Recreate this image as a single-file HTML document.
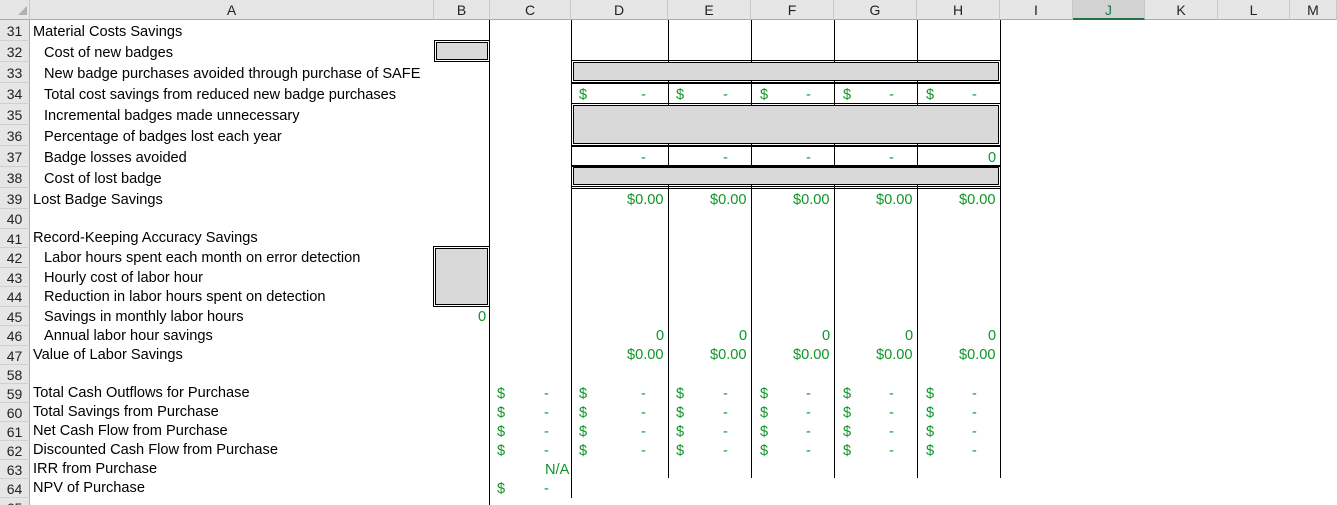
<!DOCTYPE html>
<html><head><meta charset="utf-8"><style>
html,body{margin:0;width:1337px;height:505px;overflow:hidden}
body{background:#fff;font-family:"Liberation Sans",Arial,sans-serif;font-size:14.6px;position:relative}
div{position:absolute;box-sizing:border-box}
.ch{top:0;height:20px;background:#e6e6e6;border-right:1px solid #c8c8c8;border-bottom:1px solid #ababab;text-align:center;line-height:20px;color:#222;font-size:14px}
.rh{left:0;width:30px;background:#e6e6e6;border-bottom:1px solid #d0d0d0;border-right:1px solid #ababab;text-align:center;color:#222;font-size:14px;padding-top:1px}
.l{left:33px;white-space:nowrap;color:#000;margin-top:2px}
.i{left:44px;white-space:nowrap;color:#000;margin-top:2px}
.g{color:#0f9628;white-space:nowrap;margin-top:2px}
.v{width:1px;background:#000}
.box{background:#d9d9d9;border:1px solid #000;outline:1px solid #000;outline-offset:1px}
</style></head><body>
<div class="ch" style="left:0;width:30px"></div>
<div style="left:18px;top:6px;width:0;height:0;border-left:9px solid transparent;border-bottom:9px solid #b0b0b0"></div>
<div class="ch" style="left:30px;width:404px">A</div>
<div class="ch" style="left:434px;width:56px">B</div>
<div class="ch" style="left:490px;width:81px">C</div>
<div class="ch" style="left:571px;width:97px">D</div>
<div class="ch" style="left:668px;width:83px">E</div>
<div class="ch" style="left:751px;width:83px">F</div>
<div class="ch" style="left:834px;width:83px">G</div>
<div class="ch" style="left:917px;width:83px">H</div>
<div class="ch" style="left:1000px;width:73px">I</div>
<div class="ch" style="left:1073px;width:72px;background:#d2d2d2;color:#217346;border-bottom:2px solid #217346">J</div>
<div class="ch" style="left:1145px;width:73px">K</div>
<div class="ch" style="left:1218px;width:72px">L</div>
<div class="ch" style="left:1290px;width:47px">M</div>
<div style="left:0;top:20px;width:1px;height:485px;background:#217346"></div>
<div class="rh" style="top:20px;height:21px;line-height:21px">31</div>
<div class="rh" style="top:41px;height:21px;line-height:21px">32</div>
<div class="rh" style="top:62px;height:21px;line-height:21px">33</div>
<div class="rh" style="top:83px;height:21px;line-height:21px">34</div>
<div class="rh" style="top:104px;height:21px;line-height:21px">35</div>
<div class="rh" style="top:125px;height:21px;line-height:21px">36</div>
<div class="rh" style="top:146px;height:21px;line-height:21px">37</div>
<div class="rh" style="top:167px;height:21px;line-height:21px">38</div>
<div class="rh" style="top:188px;height:21px;line-height:21px">39</div>
<div class="rh" style="top:209px;height:19.5px;line-height:19px">40</div>
<div class="rh" style="top:228.5px;height:19.5px;line-height:19px">41</div>
<div class="rh" style="top:248px;height:19.5px;line-height:19px">42</div>
<div class="rh" style="top:267.5px;height:19.5px;line-height:19px">43</div>
<div class="rh" style="top:287px;height:19.5px;line-height:19px">44</div>
<div class="rh" style="top:306.5px;height:19.5px;line-height:19px">45</div>
<div class="rh" style="top:326px;height:19.5px;line-height:19px">46</div>
<div class="rh" style="top:345.5px;height:19.5px;line-height:19px">47</div>
<div class="rh" style="top:365px;height:19px;line-height:18px">58</div>
<div class="rh" style="top:384px;height:19px;line-height:18px">59</div>
<div class="rh" style="top:403px;height:19px;line-height:18px">60</div>
<div class="rh" style="top:422px;height:19px;line-height:18px">61</div>
<div class="rh" style="top:441px;height:19px;line-height:18px">62</div>
<div class="rh" style="top:460px;height:19px;line-height:18px">63</div>
<div class="rh" style="top:479px;height:19px;line-height:18px">64</div>
<div class="rh" style="top:498px;height:19px;line-height:18px">65</div>
<div class="l" style="top:20px;line-height:21px">Material Costs Savings</div>
<div class="i" style="top:41px;line-height:21px">Cost of new badges</div>
<div class="i" style="top:62px;line-height:21px">New badge purchases avoided through purchase of SAFE</div>
<div class="i" style="top:83px;line-height:21px">Total cost savings from reduced new badge purchases</div>
<div class="i" style="top:104px;line-height:21px">Incremental badges made unnecessary</div>
<div class="i" style="top:125px;line-height:21px">Percentage of badges lost each year</div>
<div class="i" style="top:146px;line-height:21px">Badge losses avoided</div>
<div class="i" style="top:167px;line-height:21px">Cost of lost badge</div>
<div class="l" style="top:188px;line-height:21px">Lost Badge Savings</div>
<div class="l" style="top:227px;line-height:19px">Record-Keeping Accuracy Savings</div>
<div class="i" style="top:247px;line-height:19px">Labor hours spent each month on error detection</div>
<div class="i" style="top:267px;line-height:19px">Hourly cost of labor hour</div>
<div class="i" style="top:286px;line-height:19px">Reduction in labor hours spent on detection</div>
<div class="i" style="top:306px;line-height:19px">Savings in monthly labor hours</div>
<div class="i" style="top:325px;line-height:19px">Annual labor hour savings</div>
<div class="l" style="top:344px;line-height:19px">Value of Labor Savings</div>
<div class="l" style="top:382px;line-height:19px">Total Cash Outflows for Purchase</div>
<div class="l" style="top:401px;line-height:19px">Total Savings from Purchase</div>
<div class="l" style="top:420px;line-height:19px">Net Cash Flow from Purchase</div>
<div class="l" style="top:439px;line-height:19px">Discounted Cash Flow from Purchase</div>
<div class="l" style="top:458px;line-height:19px">IRR from Purchase</div>
<div class="l" style="top:477px;line-height:19px">NPV of Purchase</div>
<div class="v" style="left:489px;top:20px;height:485px"></div>
<div class="v" style="left:571px;top:20px;height:478px"></div>
<div class="v" style="left:668px;top:20px;height:458px"></div>
<div class="v" style="left:751px;top:20px;height:458px"></div>
<div class="v" style="left:834px;top:20px;height:458px"></div>
<div class="v" style="left:917px;top:20px;height:458px"></div>
<div class="v" style="left:1000px;top:20px;height:458px"></div>
<div style="left:571px;top:83px;width:430px;height:21px;border-top:1px solid #000;border-bottom:1px solid #000"></div>
<div style="left:571px;top:146px;width:430px;height:21px;border-top:1px solid #000;border-bottom:1px solid #000"></div>
<div style="left:571px;top:188px;width:430px;height:1px;background:#000"></div>
<div class="box" style="left:436px;top:42px;width:52px;height:18px"></div>
<div class="box" style="left:573px;top:62px;width:426px;height:19px"></div>
<div class="box" style="left:573px;top:105px;width:426px;height:39px"></div>
<div class="box" style="left:573px;top:167px;width:426px;height:18px"></div>
<div class="box" style="left:435px;top:248px;width:53px;height:57px"></div>
<div class="g" style="left:579px;top:83px;line-height:21px">$</div><div class="g" style="left:641px;top:83px;line-height:21px">-</div>
<div class="g" style="left:676px;top:83px;line-height:21px">$</div><div class="g" style="left:723px;top:83px;line-height:21px">-</div>
<div class="g" style="left:760px;top:83px;line-height:21px">$</div><div class="g" style="left:806px;top:83px;line-height:21px">-</div>
<div class="g" style="left:843px;top:83px;line-height:21px">$</div><div class="g" style="left:889px;top:83px;line-height:21px">-</div>
<div class="g" style="left:926px;top:83px;line-height:21px">$</div><div class="g" style="left:972px;top:83px;line-height:21px">-</div>
<div class="g" style="left:641px;top:146px;line-height:21px">-</div>
<div class="g" style="left:723px;top:146px;line-height:21px">-</div>
<div class="g" style="left:806px;top:146px;line-height:21px">-</div>
<div class="g" style="left:889px;top:146px;line-height:21px">-</div>
<div class="g" style="left:988px;top:146px;line-height:21px">0</div>
<div class="g" style="left:627px;top:188px;line-height:21px">$0.00</div>
<div class="g" style="left:710px;top:188px;line-height:21px">$0.00</div>
<div class="g" style="left:793px;top:188px;line-height:21px">$0.00</div>
<div class="g" style="left:876px;top:188px;line-height:21px">$0.00</div>
<div class="g" style="left:959px;top:188px;line-height:21px">$0.00</div>
<div class="g" style="left:478px;top:306px;line-height:19px">0</div>
<div class="g" style="left:656px;top:325px;line-height:19px">0</div>
<div class="g" style="left:739px;top:325px;line-height:19px">0</div>
<div class="g" style="left:822px;top:325px;line-height:19px">0</div>
<div class="g" style="left:905px;top:325px;line-height:19px">0</div>
<div class="g" style="left:988px;top:325px;line-height:19px">0</div>
<div class="g" style="left:627px;top:344px;line-height:19px">$0.00</div>
<div class="g" style="left:710px;top:344px;line-height:19px">$0.00</div>
<div class="g" style="left:793px;top:344px;line-height:19px">$0.00</div>
<div class="g" style="left:876px;top:344px;line-height:19px">$0.00</div>
<div class="g" style="left:959px;top:344px;line-height:19px">$0.00</div>
<div class="g" style="left:497px;top:383px;line-height:19px">$<br>$<br>$<br>$</div>
<div class="g" style="left:544px;top:383px;line-height:19px">-<br>-<br>-<br>-</div>
<div class="g" style="left:579px;top:383px;line-height:19px">$<br>$<br>$<br>$</div>
<div class="g" style="left:641px;top:383px;line-height:19px">-<br>-<br>-<br>-</div>
<div class="g" style="left:676px;top:383px;line-height:19px">$<br>$<br>$<br>$</div>
<div class="g" style="left:723px;top:383px;line-height:19px">-<br>-<br>-<br>-</div>
<div class="g" style="left:760px;top:383px;line-height:19px">$<br>$<br>$<br>$</div>
<div class="g" style="left:806px;top:383px;line-height:19px">-<br>-<br>-<br>-</div>
<div class="g" style="left:843px;top:383px;line-height:19px">$<br>$<br>$<br>$</div>
<div class="g" style="left:889px;top:383px;line-height:19px">-<br>-<br>-<br>-</div>
<div class="g" style="left:926px;top:383px;line-height:19px">$<br>$<br>$<br>$</div>
<div class="g" style="left:972px;top:383px;line-height:19px">-<br>-<br>-<br>-</div>
<div class="g" style="left:545px;top:459px;line-height:19px">N/A</div>
<div class="g" style="left:497px;top:478px;line-height:19px">$</div>
<div class="g" style="left:544px;top:478px;line-height:19px">-</div>
</body></html>
